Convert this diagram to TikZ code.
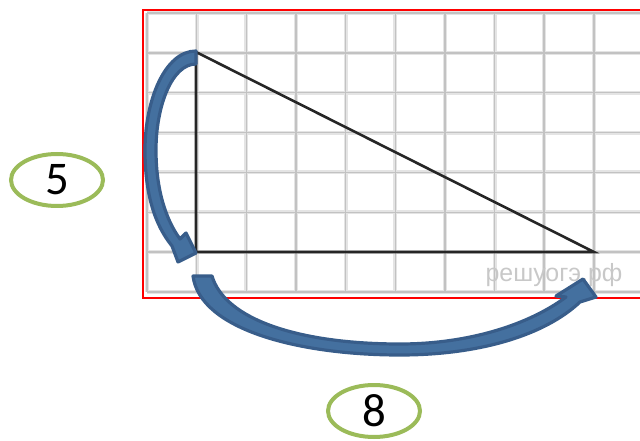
\documentclass[tikz,border=0pt]{standalone}
\usepackage{fontspec}
\setmainfont{Carlito}
\newfontfamily\wmfont{Liberation Sans}
\usetikzlibrary{shapes.geometric}
\definecolor{gridsoft}{HTML}{E4E4E4}
\definecolor{gridcore}{HTML}{C2C2C2}
\definecolor{arrowfill}{HTML}{44709F}
\definecolor{arrowdraw}{HTML}{385D8A}
\definecolor{labgreen}{HTML}{9BBB59}
\definecolor{wmgray}{HTML}{C8C8C8}
\begin{document}
\begin{tikzpicture}[x=1bp,y=-1bp,
  gridsoftline/.style={draw=gridsoft, line width=4bp},
  gridline/.style={draw=gridcore, line width=1.5bp},
  tri/.style={draw=black!85, line width=2.6bp, line join=miter},
  barrow/.style={fill=arrowfill, draw=arrowdraw, line width=3.2bp, line join=round},
  lab/.style={ellipse, draw=labgreen, line width=4bp, minimum width=92bp, minimum height=52bp, inner sep=0pt, font=\fontsize{47}{47}\selectfont},
  wm/.style={text=wmgray, font=\wmfont\fontsize{25}{25}\selectfont, inner sep=0pt, anchor=base}]
\useasboundingbox (0,0) rectangle (640,441);
\clip (0,0) rectangle (640,441);
% grid
\foreach \i in {0,...,10} {\draw[gridsoftline] (147+49.65*\i,13) -- (147+49.65*\i,292);}
\foreach \j in {0,...,7} {\draw[gridsoftline] (147,13+39.86*\j) -- (660,13+39.86*\j);}
\foreach \i in {0,...,10} {\draw[gridline] (147+49.65*\i,13) -- (147+49.65*\i,292);}
\foreach \j in {0,...,7} {\draw[gridline] (147,13+39.86*\j) -- (660,13+39.86*\j);}
% watermark
\node[wm] (mark) at (554,282) {решуогэ.рф};
% triangle
\coordinate (A) at (196,52);
\coordinate (B) at (196,252);
\coordinate (C) at (594,252);
\draw[tri] (A) -- (B) -- (C) -- cycle;
% red frame
\draw[red, line width=2bp] (143,10) rectangle (660,298);
% curved arrows
\draw[barrow] (196,51) .. controls (165,51) and (145,100) .. (145,150)
  .. controls (145,195) and (155,225) .. (172,246) -- (178,262) -- (196,253) -- (186,233) -- (180,239)
  .. controls (166,220) and (156,190) .. (156,150)
  .. controls (156,106) and (172,64) .. (196,64) -- cycle;
\draw[barrow] (193,276) .. controls (200,330) and (300,355) .. (400,355)
  .. controls (480,355) and (545,335) .. (580,302) -- (596,297) -- (583,279) -- (556,296) -- (566,297)
  .. controls (530,324) and (470,344) .. (400,344)
  .. controls (300,344) and (225,320) .. (212,276) -- cycle;
% labels
\node[lab] (five) at (57,180) {5};
\node[lab] (eight) at (374,411) {8};
\end{tikzpicture}
\end{document}
